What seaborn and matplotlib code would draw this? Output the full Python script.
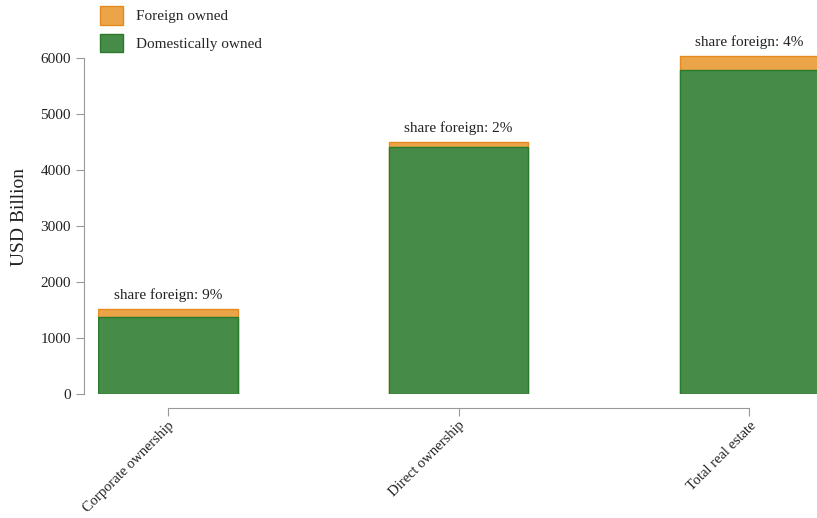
# Foreign vs domestic ownership of real estate

import pandas as pd
import matplotlib.pyplot as plt
import seaborn as sns
from matplotlib.patches import Patch

# Data (USD billion)
categories = ["Corporate ownership", "Direct ownership", "Total real estate"]
domestic = [1380, 4410, 5785]
foreign = [140, 90, 250]

df = pd.DataFrame({"category": categories, "domestic": domestic, "foreign": foreign})
df["total"] = df["domestic"] + df["foreign"]
df["share"] = (df["foreign"] / df["total"] * 100).round().astype(int)

sns.set_style("white")
plt.rcParams["font.family"] = ["Liberation Serif", "DejaVu Serif"]

orange = "#eba448"
orange_edge = "#e58a1f"
green = "#468c48"
green_edge = "#2a7a2c"

fig = plt.figure(figsize=(8.17, 5.18), dpi=100)
ax = fig.add_axes([98 / 817, (518 - 394) / 518, (822 - 98) / 817, (394 - 40) / 518])

# stacked bars: total (foreign on top) then domestic on top of it
sns.barplot(data=df, x="category", y="total", color=orange, width=0.48,
            edgecolor=orange_edge, linewidth=1, saturation=1, ax=ax)
sns.barplot(data=df, x="category", y="domestic", color=green, width=0.48,
            edgecolor=green_edge, linewidth=1, saturation=1, ax=ax)

for i, row in df.iterrows():
    ax.annotate(f"share foreign: {row['share']}%", (i, row["total"]),
                xytext=(0, 5), textcoords="offset points",
                ha="center", va="bottom", fontsize=11, color="#222222")

ax.set_xlim(-0.24, 2.25)
ax.set_ylim(0, 6320)
ax.set_yticks([0, 1000, 2000, 3000, 4000, 5000, 6000])
ax.set_xlabel("")
ax.set_ylabel("USD Billion", fontsize=14, color="#222222", labelpad=9)
ax.tick_params(axis="both", length=6, color="#999999", labelsize=11,
               labelcolor="#222222", left=True, bottom=True)
ax.tick_params(axis="x", pad=2)

sns.despine(ax=ax, offset=10, trim=True)
for side in ["left", "bottom"]:
    ax.spines[side].set_color("#999999")
ax.set_xticks(range(len(categories)), categories)
plt.setp(ax.get_xticklabels(), rotation=45, ha="right", rotation_mode="anchor",
         fontsize=10.5)

handles = [
    Patch(facecolor=orange, edgecolor=orange_edge, label="Foreign owned"),
    Patch(facecolor=green, edgecolor=green_edge, label="Domestically owned"),
]
fig.legend(handles=handles, loc="upper left", bbox_to_anchor=(86 / 817, 1.015),
           frameon=False, fontsize=11, handlelength=1.5, handleheight=1.5,
           handletextpad=0.9, labelspacing=0.6)

fig.savefig("out.png", dpi=100)
